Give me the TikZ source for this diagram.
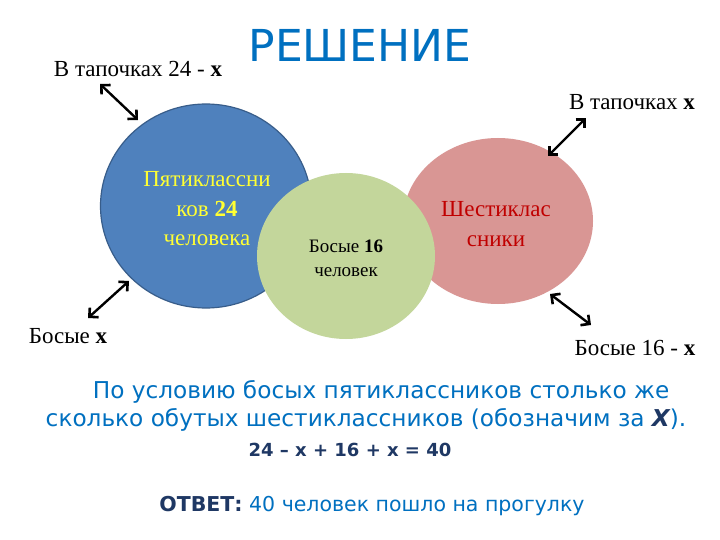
\documentclass[tikz,border=0pt]{standalone}
\usepackage{fontspec}
\setmainfont{Liberation Serif}
\newfontfamily\dvs{DejaVu Sans}
\usetikzlibrary{arrows.meta,shapes.geometric}
\definecolor{bluefill}{HTML}{4F81BD}
\definecolor{blueedge}{HTML}{385D8A}
\definecolor{greenfill}{HTML}{C3D69B}
\definecolor{pinkfill}{HTML}{D99694}
\definecolor{txtblue}{HTML}{0070C0}
\definecolor{navy}{HTML}{1F3864}
\definecolor{darkred}{HTML}{C00000}
\definecolor{yel}{HTML}{FFFF33}
\tikzset{
  barb/.tip={Straight Barb[length=6.5pt,width=13pt,line width=2.6pt]},
  dbl/.style={barb-barb, line width=2.4pt, black},
  lbl/.style={font=\fontsize{23}{26}\selectfont, inner sep=0pt, anchor=base},
  oval/.style={ellipse, inner sep=0pt},
  bottomtxt/.style={font=\dvs\fontsize{23.2}{28}\selectfont, text=txtblue, inner sep=0pt, anchor=base}
}
\begin{document}
\begin{tikzpicture}[x=1pt,y=-1pt]
\useasboundingbox[fill=white] (0,0) rectangle (720,540);
% title
\node[font=\dvs\fontsize{44}{50}\selectfont, text=txtblue, inner sep=0pt, anchor=base] (title) at (360,62) {РЕШЕНИЕ};
% ovals
\node[oval, fill=bluefill, draw=blueedge, line width=1.2pt, minimum width=211, minimum height=204] (blue) at (206,206) {};
\node[oval, fill=pinkfill, minimum width=190, minimum height=166] (pink) at (498,221) {};
\node[oval, fill=greenfill, minimum width=178, minimum height=166] (green) at (346,256) {};
% oval texts
\node[lbl, text=yel] (t5a) at (207,187) {Пятиклассни};
\node[lbl, text=yel] (t5b) at (207,216) {ков \textbf{24}};
\node[lbl, text=yel] (t5c) at (207,245) {человека};
\node[lbl, text=darkred] (t6a) at (496,217) {Шестиклас};
\node[lbl, text=darkred] (t6b) at (496,246) {сники};
\node[lbl, font=\fontsize{19}{22}\selectfont] (tga) at (346,252) {Босые \textbf{16}};
\node[lbl, font=\fontsize{19}{22}\selectfont] (tgb) at (346,276) {человек};
% outer labels
\node[lbl] (l1) at (138,77) {В тапочках 24 - \textbf{x}};
\node[lbl] (l2) at (632,110) {В тапочках \textbf{x}};
\node[lbl] (l3) at (68,343) {Босые \textbf{x}};
\node[lbl] (l4) at (635,355) {Босые 16 - \textbf{x}};
% arrow ends
\coordinate (a1s) at (100,84);
\coordinate (a1e) at (138,120);
\coordinate (a2s) at (548,156);
\coordinate (a2e) at (586,118);
\coordinate (a3s) at (88,318);
\coordinate (a3e) at (129,281);
\coordinate (a4s) at (550,294);
\coordinate (a4e) at (591,325);
\draw[dbl] (a1s) -- (a1e);
\draw[dbl] (a2s) -- (a2e);
\draw[dbl] (a3s) -- (a3e);
\draw[dbl] (a4s) -- (a4e);
% bottom text
\node[bottomtxt] (b1) at (381,398) {По условию босых пятиклассников столько же};
\node[bottomtxt] (b2) at (366,426) {сколько обутых шестиклассников (обозначим за \textcolor{navy}{\bfseries\itshape X}).};
\node[font=\dvs\bfseries\fontsize{18}{20}\selectfont, text=navy, inner sep=0pt, anchor=base] (eq) at (350,456) {24 – x + 16 + x = 40};
\node[font=\dvs\fontsize{20.5}{24}\selectfont, text=txtblue, inner sep=0pt, anchor=base] (ans) at (372,511) {\textcolor{navy}{\bfseries ОТВЕТ:} 40 человек пошло на прогулку};
\end{tikzpicture}
\end{document}
